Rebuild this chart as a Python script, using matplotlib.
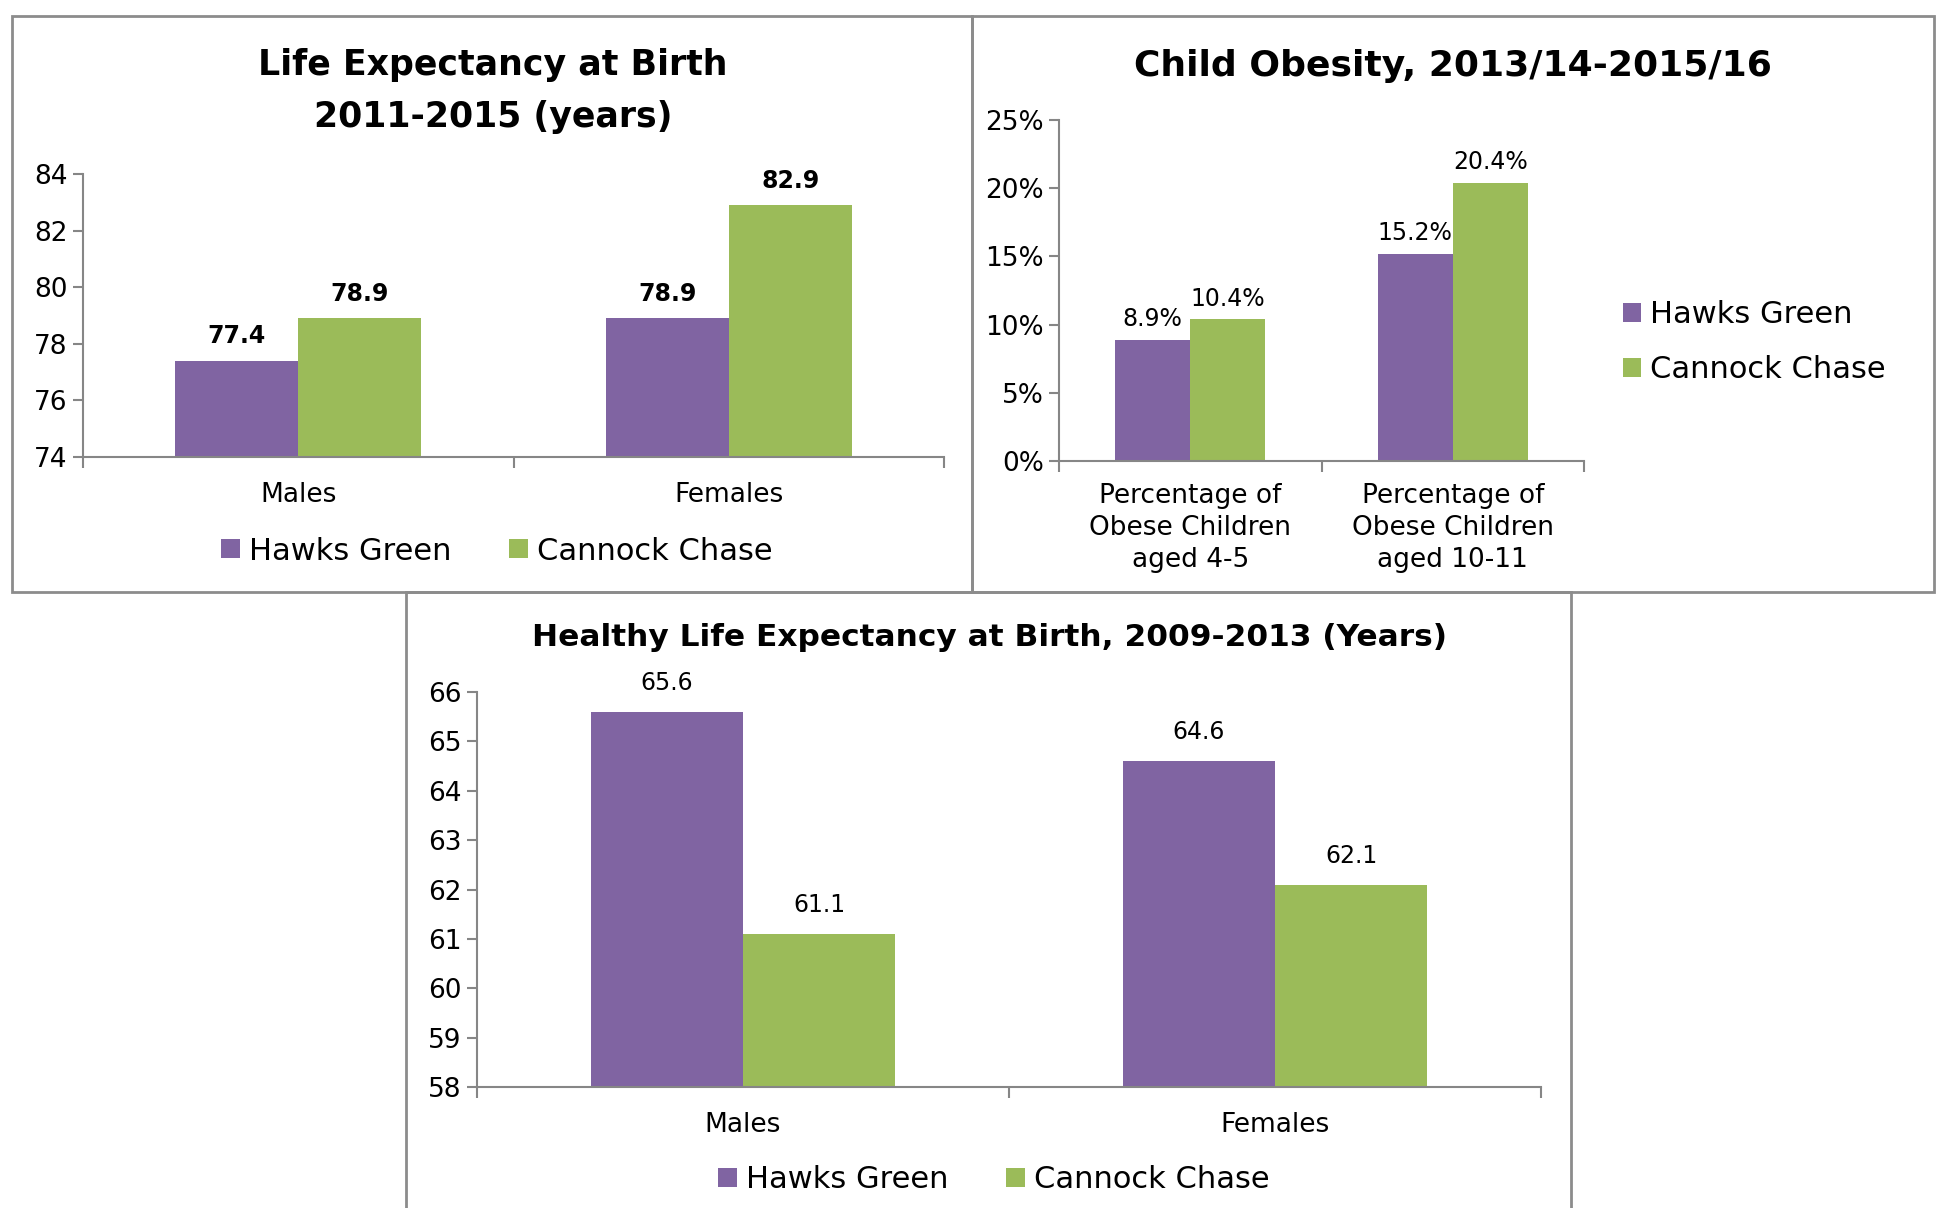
import matplotlib
matplotlib.use("Agg")
import matplotlib.pyplot as plt
import numpy as np
from matplotlib.patches import Rectangle
from matplotlib.ticker import FuncFormatter

plt.rcParams['font.family'] = ['DejaVu Sans']

# data
series = ['Hawks Green', 'Cannock Chase']
colors = ['#8064A2', '#9BBB59']

le_cats = ['Males', 'Females']
le_hawks = [77.4, 78.9]
le_cannock = [78.9, 82.9]

ob_cats = ['Percentage of\nObese Children\naged 4-5', 'Percentage of\nObese Children\naged 10-11']
ob_hawks = [8.9, 15.2]
ob_cannock = [10.4, 20.4]

hle_cats = ['Males', 'Females']
hle_hawks = [65.6, 64.6]
hle_cannock = [61.1, 62.1]

W, H = 1944, 1208
fig = plt.figure(figsize=(W / 100, H / 100), dpi=100)


def px_axes(x0, x1, y0, y1):
    # pixel box (top-left origin) to figure fraction axes
    return fig.add_axes([x0 / W, 1 - y1 / H, (x1 - x0) / W, (y1 - y0) / H])


def style_axes(ax, ncat):
    for s in ['top', 'right']:
        ax.spines[s].set_visible(False)
    for s in ['left', 'bottom']:
        ax.spines[s].set_color('#868686')
        ax.spines[s].set_linewidth(1.5)
    ax.set_xlim(-0.5, ncat - 0.5)
    ax.set_xticks(np.arange(-0.5, ncat, 1.0), minor=False)
    ax.tick_params(axis='x', which='major', length=8, color='#868686', width=1.5, labelbottom=False)
    ax.tick_params(axis='y', length=7, color='#868686', width=1.5, labelsize=19, pad=4)


def draw_bars(ax, cats, a, b, bold, fmt, size, pad, linesp=1.25, xpad=18):
    x = np.arange(len(cats))
    w = 0.286
    b1 = ax.bar(x - w / 2, a, w, color=colors[0], label=series[0])
    b2 = ax.bar(x + w / 2, b, w, color=colors[1], label=series[1])
    for bars in (b1, b2):
        ax.bar_label(bars, labels=[fmt(v) for v in bars.datavalues], padding=pad,
                     fontsize=size, fontweight='bold' if bold else 'normal')
    ax.set_xticks(x, minor=True)
    ax.set_xticklabels(cats, minor=True, fontsize=19, linespacing=linesp)
    ax.tick_params(axis='x', which='minor', length=0, pad=xpad)
    return b1, b2


# panel frames
frame_kw = dict(fill=False, edgecolor='#8c8c8c', linewidth=2, transform=None)
for (x0, y0, x1, y1) in [(12, 16, 972, 592), (972, 16, 1934, 592), (406, 592, 1571, 1240)]:
    fig.add_artist(Rectangle((x0, H - y1), x1 - x0, y1 - y0, **frame_kw))

# Life expectancy
ax1 = px_axes(83, 944, 174, 457)
style_axes(ax1, 2)
draw_bars(ax1, le_cats, le_hawks, le_cannock, True, lambda v: f'{v:.1f}', 17, 9)
ax1.set_ylim(74, 84)
ax1.set_yticks(np.arange(74, 85, 2))
fig.text(493 / W, 1 - 91 / H, 'Life Expectancy at Birth\n2011-2015 (years)', ha='center', va='center',
         fontsize=25, fontweight='bold', linespacing=1.64)
ax1.legend(loc='center', bbox_to_anchor=(497 / W, 1 - 551 / H), bbox_transform=fig.transFigure,
           ncol=2, frameon=False, fontsize=22, handlelength=0.6, handleheight=0.6,
           handletextpad=0.3, columnspacing=1.9)

# Child obesity
ax2 = px_axes(1059, 1584, 120, 461)
style_axes(ax2, 2)
draw_bars(ax2, ob_cats, ob_hawks, ob_cannock, False, lambda v: f'{v:.1f}%', 17, 6,
          linesp=1.3, xpad=16)
ax2.set_ylim(0, 25)
ax2.set_yticks(np.arange(0, 26, 5))
ax2.yaxis.set_major_formatter(FuncFormatter(lambda v, p: f'{v:.0f}%'))
fig.text(1453 / W, 1 - 66 / H, 'Child Obesity, 2013/14-2015/16', ha='center', va='center',
         fontsize=26, fontweight='bold')
ax2.legend(loc='center left', bbox_to_anchor=(1595 / W, 1 - 342 / H), bbox_transform=fig.transFigure,
           ncol=1, frameon=False, fontsize=22, handlelength=0.6, handleheight=0.6,
           handletextpad=0.3, labelspacing=0.85)

# Healthy life expectancy
ax3 = px_axes(477, 1541, 692, 1087)
style_axes(ax3, 2)
draw_bars(ax3, hle_cats, hle_hawks, hle_cannock, False, lambda v: f'{v:.1f}', 17, 12)
ax3.set_ylim(58, 66)
ax3.set_yticks(np.arange(58, 67, 1))
fig.text(989 / W, 1 - 638 / H, 'Healthy Life Expectancy at Birth, 2009-2013 (Years)', ha='center',
         va='center', fontsize=22.5, fontweight='bold')
ax3.legend(loc='center', bbox_to_anchor=(994 / W, 1 - 1180 / H), bbox_transform=fig.transFigure,
           ncol=2, frameon=False, fontsize=22, handlelength=0.6, handleheight=0.6,
           handletextpad=0.3, columnspacing=1.9)

fig.savefig('out.png', dpi=100)
